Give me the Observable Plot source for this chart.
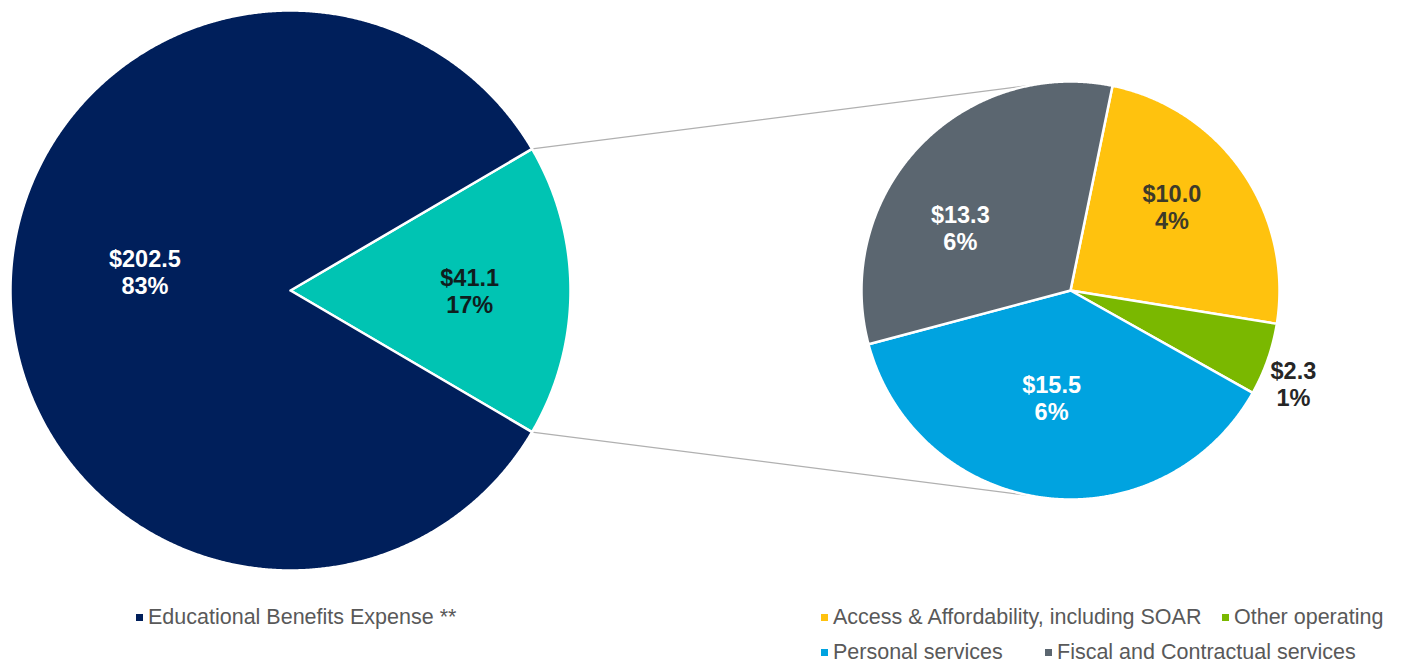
<!DOCTYPE html>
<html><head><meta charset="utf-8">
<script src="https://cdn.jsdelivr.net/npm/d3@7"></script>
<script src="https://cdn.jsdelivr.net/npm/@observablehq/plot@0.6"></script>
<style>
body{margin:0;background:#fff;font-family:"Liberation Sans",Arial,sans-serif;}
#wrap{position:relative;width:1409px;height:666px;overflow:hidden;}
.legend{position:absolute;font-size:21.5px;color:#595959;white-space:nowrap;line-height:24px;}
.item{position:absolute;white-space:nowrap;}
.sw{display:inline-block;width:7px;height:7px;margin-right:5px;vertical-align:middle;position:relative;top:-1px;}
</style></head><body>
<div id="wrap"><div id="chart"></div><div id="legend"></div></div>
<script>
// ---------- data ----------
const mainCategories = ["Other expenses", "Educational Benefits Expense **"];
const mainValues = [41.1, 202.5];
const mainPercents = ["17%", "83%"];
const subCategories = ["Access & Affordability, including SOAR", "Other operating", "Personal services", "Fiscal and Contractual services"];
const subValues = [10.0, 2.3, 15.5, 13.3];
const subPercents = ["4%", "1%", "6%", "6%"];

// ---------- styles ----------
const mainColors = ["#00C4B3", "#001F5B"];
const subColors = ["#FFC20E", "#7AB800", "#00A3E0", "#5B6670"];
const mainLabelColors = ["#0f1e1e", "#ffffff"];
const subLabelColors = ["#3d3a2a", "#262626", "#ffffff", "#ffffff"];

// ---------- layout ----------
const W = 1409, H = 595;
const left = {cx: 290, cy: 290, r: 280};
const right = {cx: 1070, cy: 290, r: 209};
const mainLabelFrac = [0.64, 0.52];
const mainLabelNudge = [[0, 0], [0, -19]];
const subStart = 11.6 * Math.PI / 180;
const subLabelFrac = [0.63, 1.16, 0.53, 0.6];
const subLabelNudge = [[-7, -9], [-6, 13], [-5, -3], [-19, 23]];
const connectorAngles = [-11 * Math.PI / 180, 191 * Math.PI / 180];

const polar = (c, a, rr) => ({x: c.cx + rr * Math.sin(a), y: c.cy - rr * Math.cos(a)});

const total = d3.sum(mainValues);
const tealAngle = 2 * Math.PI * mainValues[0] / total;
const mainStart = Math.PI / 2 - tealAngle / 2;

function slices(cats, vals, start, c) {
  const arcs = d3.pie().sort(null).startAngle(start).endAngle(start + 2 * Math.PI)(vals);
  const pts = [];
  arcs.forEach((a, i) => {
    pts.push({category: cats[i], x: c.cx, y: c.cy});
    const n = Math.max(8, Math.ceil((a.endAngle - a.startAngle) / 0.005));
    for (let k = 0; k <= n; k++) {
      const t = a.startAngle + (a.endAngle - a.startAngle) * k / n;
      const p = polar(c, t, c.r);
      pts.push({category: cats[i], x: p.x, y: p.y});
    }
    pts.push({category: cats[i], x: c.cx, y: c.cy});
  });
  return {arcs, pts};
}

const main = slices(mainCategories, mainValues, mainStart, left);
const sub = slices(subCategories, subValues, subStart, right);

const labels = [];
main.arcs.forEach((a, i) => {
  const mid = (a.startAngle + a.endAngle) / 2;
  const p = polar(left, mid, left.r * mainLabelFrac[i]);
  labels.push({x: p.x + mainLabelNudge[i][0], y: p.y + mainLabelNudge[i][1],
    text: "$" + mainValues[i].toFixed(1) + "\n" + mainPercents[i], color: mainLabelColors[i]});
});
sub.arcs.forEach((a, i) => {
  const mid = (a.startAngle + a.endAngle) / 2;
  const p = polar(right, mid, right.r * subLabelFrac[i]);
  labels.push({x: p.x + subLabelNudge[i][0], y: p.y + subLabelNudge[i][1],
    text: "$" + subValues[i].toFixed(1) + "\n" + subPercents[i], color: subLabelColors[i]});
});

// connector lines from the teal slice edges to the secondary pie
const tealArc = main.arcs[0];
const connectors = [];
[tealArc.startAngle, tealArc.endAngle].forEach((a, i) => {
  const p0 = polar(left, a, left.r);
  const p1 = polar(right, connectorAngles[i], right.r);
  connectors.push({id: i, x: p0.x, y: p0.y}, {id: i, x: p1.x, y: p1.y});
});

const labelColors = [...new Set(labels.map(d => d.color))];

const chart = Plot.plot({
  width: W, height: H, margin: 0,
  x: {domain: [0, W], range: [0, W], axis: null},
  y: {domain: [0, H], range: [0, H], axis: null},
  color: {domain: [...mainCategories, ...subCategories], range: [...mainColors, ...subColors]},
  style: {background: "white"},
  marks: [
    Plot.line(connectors, {x: "x", y: "y", z: "id", stroke: "#b0b0b0", strokeWidth: 1.2}),
    Plot.line(main.pts, {x: "x", y: "y", z: "category", fill: "category", stroke: "white", strokeWidth: 2.5, strokeLinejoin: "round"}),
    Plot.line(sub.pts, {x: "x", y: "y", z: "category", fill: "category", stroke: "white", strokeWidth: 2.5, strokeLinejoin: "round"}),
    ...labelColors.map(c => Plot.text(labels.filter(d => d.color === c), {
      x: "x", y: "y", text: "text", fill: c, fontSize: 23.5, fontWeight: "bold",
      fontFamily: "Liberation Sans, Arial, sans-serif", lineHeight: 1.15
    }))
  ]
});
document.getElementById("chart").appendChild(chart);

// ---------- legend ----------
const legendItems = [
  {label: mainCategories[1], color: mainColors[1], x: 136, y: 605},
  {label: subCategories[0], color: subColors[0], x: 821, y: 605},
  {label: subCategories[1], color: subColors[1], x: 1222, y: 605},
  {label: subCategories[2], color: subColors[2], x: 821, y: 640},
  {label: subCategories[3], color: subColors[3], x: 1045, y: 640}
];
const lg = document.getElementById("legend");
lg.className = "legend";
lg.style.left = "0px"; lg.style.top = "0px";
legendItems.forEach(it => {
  const d = document.createElement("div");
  d.className = "item";
  d.style.left = it.x + "px"; d.style.top = it.y + "px";
  const s = document.createElement("span");
  s.className = "sw"; s.style.background = it.color;
  d.appendChild(s);
  d.appendChild(document.createTextNode(it.label));
  lg.appendChild(d);
});
</script>
</body></html>
